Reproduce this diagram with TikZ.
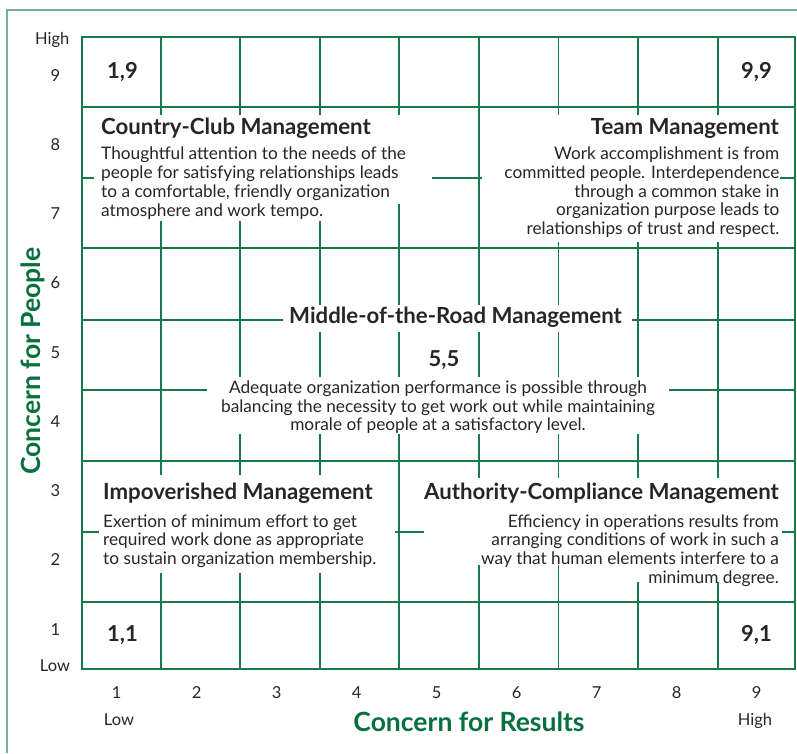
\documentclass[tikz,border=0pt]{standalone}
\usepackage{fontspec}
\setmainfont{Lato}
\definecolor{gridgreen}{HTML}{16794A}
\definecolor{framegreen}{HTML}{74B590}
\definecolor{axisgreen}{HTML}{08703E}
\definecolor{ink}{HTML}{262626}
\tikzset{
  gridline/.style={draw=gridgreen, line width=1.4pt},
  frameline/.style={draw=framegreen, line width=1.6pt},
  blank/.style={fill=white, draw=none},
  bodytext/.style={font=\fontsize{17.25}{19}\selectfont, text=ink, inner sep=0pt},
  titletext/.style={font=\bfseries\fontsize{22.2}{26}\selectfont, text=ink, inner sep=0pt},
  pairtext/.style={font=\bfseries\fontsize{22}{26}\selectfont, text=ink, inner sep=0pt},
  ticktext/.style={font=\fontsize{16.5}{19}\selectfont, text=ink, inner sep=0pt},
  axistext/.style={font=\bfseries\fontsize{26.5}{30}\selectfont, text=axisgreen, inner sep=0pt},
}
\begin{document}
\begin{tikzpicture}[x=1pt,y=-1pt]
\useasboundingbox (0,0) rectangle (797,753);
% outer frame
\draw[frameline] (7,753) -- (7,10) -- (797,10);
% grid
\foreach \gx in {82,161,240,320,399,479,558.5,638,718,795}
  \draw[gridline] (\gx,37) -- (\gx,669);
\foreach \gy in {37,107,178,248,320,390,461,532,602,669}
  \draw[gridline] (82,\gy) -- (795,\gy);
\draw[gridline] (82,37) rectangle (795,669);
% white panels behind texts
\fill[blank] (94,115) rectangle (432,204);
\fill[blank] (94,204) rectangle (360,221);
\fill[blank] (482,115) rectangle (780,242);
\fill[blank] (283,305) rectangle (632,332);
\fill[blank] (207,377) rectangle (669,434);
\fill[blank] (99,475) rectangle (395,573);
\fill[blank] (424,478) rectangle (782,565);
\fill[blank] (600,565) rectangle (782,582);
% corner pairs
\node[pairtext, anchor=base west] (p19) at (107,78.3) {1,9};
\node[pairtext, anchor=base east] (p99) at (772,78.3) {9,9};
\node[pairtext, anchor=base west] (p11) at (107,641.7) {1,1};
\node[pairtext, anchor=base east] (p91) at (772,641.7) {9,1};
\node[pairtext, anchor=base] (p55) at (444,366) {5,5};
% titles
\node[titletext, anchor=base west] (cct) at (101,134) {Country-Club Management};
\node[titletext, anchor=base east] (tmt) at (779,134) {Team Management};
\node[titletext, anchor=base] (mrt) at (455.5,323.5) {Middle-of-the-Road Management};
\node[titletext, anchor=base west] (imt) at (103,499) {Impoverished Management};
\node[titletext, anchor=base east] (act) at (779,499) {Authority-Compliance Management};
% country club body
\node[bodytext, anchor=base west] (cc1) at (101,159) {Thoughtful attention to the needs of the};
\node[bodytext, anchor=base west] (cc2) at (101,178) {people for satisfying relationships leads};
\node[bodytext, anchor=base west] (cc3) at (101,197) {to a comfortable, friendly organization};
\node[bodytext, anchor=base west] (cc4) at (101,216) {atmosphere and work tempo.};
% team body
\node[bodytext, anchor=base east] (tm1) at (779.5,159) {Work accomplishment is from};
\node[bodytext, anchor=base east] (tm2) at (779.5,178) {committed people. Interdependence};
\node[bodytext, anchor=base east] (tm3) at (779.5,197) {through a common stake in};
\node[bodytext, anchor=base east] (tm4) at (779.5,215.5) {organization purpose leads to};
\node[bodytext, anchor=base east] (tm5) at (779.5,234.5) {relationships of trust and respect.};
% middle body
\node[bodytext, anchor=base] (mr1) at (438,393) {Adequate organization performance is possible through};
\node[bodytext, anchor=base] (mr2) at (438,412) {balancing the necessity to get work out while maintaining};
\node[bodytext, anchor=base] (mr3) at (438,430.5) {morale of people at a satisfactory level.};
% impoverished body
\node[bodytext, anchor=base west] (im1) at (103,527) {Exertion of minimum effort to get};
\node[bodytext, anchor=base west] (im2) at (103,545.5) {required work done as appropriate};
\node[bodytext, anchor=base west] (im3) at (103,564) {to sustain organization membership.};
% authority body
\node[bodytext, anchor=base east] (ac1) at (779,527) {Efficiency in operations results from};
\node[bodytext, anchor=base east] (ac2) at (779,545.5) {arranging conditions of work in such a};
\node[bodytext, anchor=base east] (ac3) at (779,564) {way that human elements interfere to a};
\node[bodytext, anchor=base east] (ac4) at (779,583) {minimum degree.};
% left axis
\node[ticktext, anchor=base] (yhigh) at (52.3,44.3) {High};
\node[ticktext, anchor=base] (ylow) at (55,671.7) {Low};
\foreach \k [count=\i from 0] in {9,8,7,6,5,4,3,2,1}
  \node[ticktext, anchor=base] (ytick\k) at (55.5,81+69.25*\i) {\k};
% bottom axis
\foreach \k [count=\i from 0] in {1,2,3,4,5,6,7,8,9}
  \node[ticktext, anchor=base] (xtick\k) at (116.7+80*\i,698.3) {\k};
\node[ticktext, anchor=base] (xlow) at (119,725.7) {Low};
\node[ticktext, anchor=base] (xhigh) at (755,725.7) {High};
% axis titles
\node[axistext, anchor=base] (xtitle) at (469,731.7) {Concern for Results};
\node[axistext, anchor=base, rotate=90] (ytitle) at (40,361) {Concern for People};
\end{tikzpicture}
\end{document}
